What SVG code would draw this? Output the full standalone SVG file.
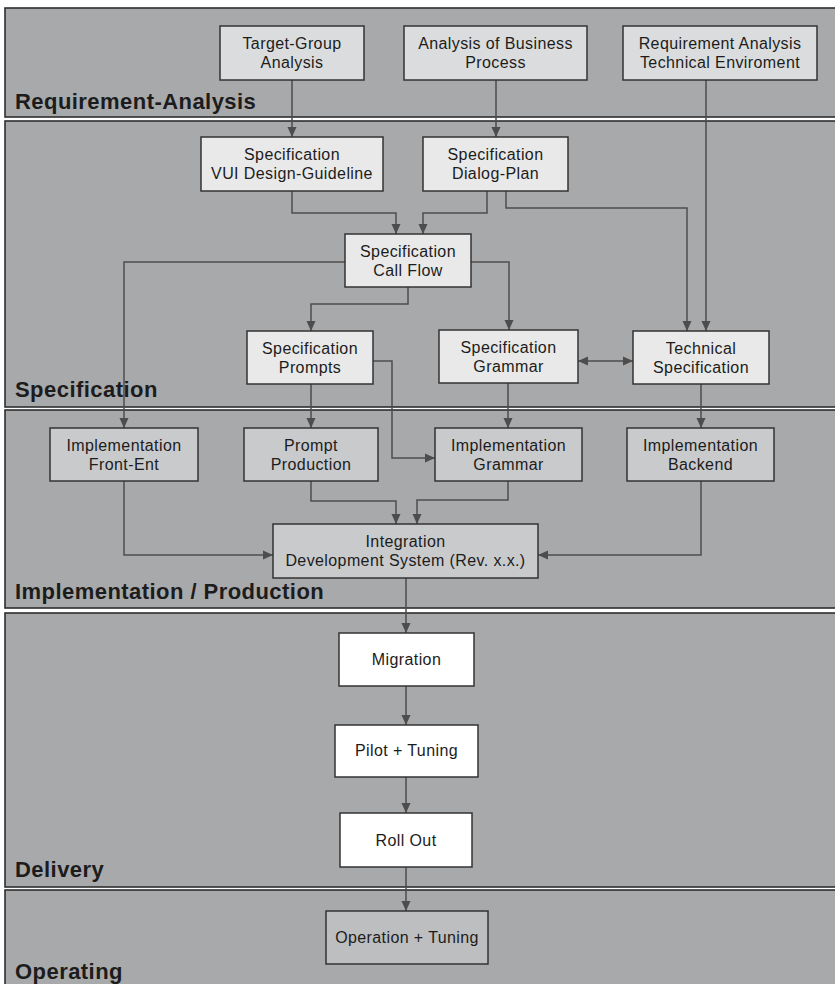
<svg xmlns="http://www.w3.org/2000/svg" width="835" height="984" viewBox="0 0 835 984">
  <style>
    .panel { fill: #a8a9ab; stroke: #2e2e2e; stroke-width: 1.6; }
    .phase { font-family: "Liberation Sans", Arial, sans-serif; font-weight: bold; font-size: 22px; letter-spacing: 0.45px; fill: #1c1c1c; }
    .box { stroke: #333333; stroke-width: 1.5; }
    .req { fill: #dbdcdd; }
    .spec { fill: #e8e9e8; }
    .impl { fill: #c9cacc; }
    .deliv { fill: #ffffff; }
    .oper { fill: #bdbec0; }
    .lbl { font-family: "Liberation Sans", Arial, sans-serif; font-size: 16px; letter-spacing: 0.4px; fill: #1c1c1c; text-anchor: middle; }
    .conn { fill: none; stroke: #4d4d4d; stroke-width: 1.5; }
  </style>
  <defs>
    <marker id="arrow" markerUnits="userSpaceOnUse" markerWidth="10" markerHeight="10" refX="10" refY="5" orient="auto-start-reverse">
      <path d="M0,0.5 L10,5 L0,9.5 Z" fill="#4d4d4d"/>
    </marker>
  </defs>

  <rect width="835" height="984" fill="#ffffff"/>

  <!-- phase bands -->
  <g id="phases">
    <rect class="panel" x="5" y="8" width="831" height="109"/>
    <rect class="panel" x="5" y="121" width="831" height="286"/>
    <rect class="panel" x="5" y="410" width="831" height="198"/>
    <rect class="panel" x="5" y="613" width="831" height="274"/>
    <rect class="panel" x="5" y="890" width="831" height="100"/>
    <text class="phase" x="15" y="109">Requirement-Analysis</text>
    <text class="phase" x="15" y="397">Specification</text>
    <text class="phase" x="15" y="599">Implementation / Production</text>
    <text class="phase" x="15" y="877">Delivery</text>
    <text class="phase" x="15" y="979">Operating</text>
  </g>

  <!-- connectors -->
  <g id="connectors">
    <path class="conn" d="M292,80 V137" marker-end="url(#arrow)"/>
    <path class="conn" d="M496,80 V137" marker-end="url(#arrow)"/>
    <path class="conn" d="M706,80 V331" marker-end="url(#arrow)"/>
    <path class="conn" d="M292,191 V213 H396 V234" marker-end="url(#arrow)"/>
    <path class="conn" d="M487,191 V213 H423 V234" marker-end="url(#arrow)"/>
    <path class="conn" d="M506,191 V208 H687 V331" marker-end="url(#arrow)"/>
    <path class="conn" d="M345,262 H124 V428" marker-end="url(#arrow)"/>
    <path class="conn" d="M471,262 H509 V330" marker-end="url(#arrow)"/>
    <path class="conn" d="M408,287 V304 H311 V331" marker-end="url(#arrow)"/>
    <path class="conn" d="M578,361 H633" marker-start="url(#arrow)" marker-end="url(#arrow)"/>
    <path class="conn" d="M373,361 H392 V458 H435" marker-end="url(#arrow)"/>
    <path class="conn" d="M311,384 V428" marker-end="url(#arrow)"/>
    <path class="conn" d="M508,383 V428" marker-end="url(#arrow)"/>
    <path class="conn" d="M701,384 V428" marker-end="url(#arrow)"/>
    <path class="conn" d="M124,481 V555 H273" marker-end="url(#arrow)"/>
    <path class="conn" d="M311,481 V501 H396 V524" marker-end="url(#arrow)"/>
    <path class="conn" d="M508,481 V500 H417 V524" marker-end="url(#arrow)"/>
    <path class="conn" d="M701,481 V555 H538" marker-end="url(#arrow)"/>
    <path class="conn" d="M406,578 V633" marker-end="url(#arrow)"/>
    <path class="conn" d="M406,686 V725" marker-end="url(#arrow)"/>
    <path class="conn" d="M406,777 V813" marker-end="url(#arrow)"/>
    <path class="conn" d="M406,867 V911" marker-end="url(#arrow)"/>
  </g>

  <!-- requirement analysis -->
  <g id="target-group">
    <rect class="box req" x="220" y="26" width="144" height="54"/>
    <text class="lbl" x="292" y="48.5">Target-Group</text>
    <text class="lbl" x="292" y="67.5">Analysis</text>
  </g>
  <g id="business-process">
    <rect class="box req" x="404" y="26" width="183" height="54"/>
    <text class="lbl" x="495.5" y="48.5">Analysis of Business</text>
    <text class="lbl" x="495.5" y="67.5">Process</text>
  </g>
  <g id="tech-environment">
    <rect class="box req" x="623" y="26" width="194" height="54"/>
    <text class="lbl" x="720" y="48.5">Requirement Analysis</text>
    <text class="lbl" x="720" y="67.5">Technical Enviroment</text>
  </g>

  <!-- specification -->
  <g id="spec-vui">
    <rect class="box spec" x="201" y="137" width="182" height="54"/>
    <text class="lbl" x="292" y="159.5">Specification</text>
    <text class="lbl" x="292" y="178.5">VUI Design-Guideline</text>
  </g>
  <g id="spec-dialog">
    <rect class="box spec" x="423" y="137" width="145" height="54"/>
    <text class="lbl" x="495.5" y="159.5">Specification</text>
    <text class="lbl" x="495.5" y="178.5">Dialog-Plan</text>
  </g>
  <g id="spec-callflow">
    <rect class="box spec" x="345" y="234" width="126" height="53"/>
    <text class="lbl" x="408" y="256.5">Specification</text>
    <text class="lbl" x="408" y="275.5">Call Flow</text>
  </g>
  <g id="spec-prompts">
    <rect class="box spec" x="247" y="331" width="126" height="53"/>
    <text class="lbl" x="310" y="353.5">Specification</text>
    <text class="lbl" x="310" y="372.5">Prompts</text>
  </g>
  <g id="spec-grammar">
    <rect class="box spec" x="439" y="330" width="139" height="53"/>
    <text class="lbl" x="508.5" y="352.5">Specification</text>
    <text class="lbl" x="508.5" y="371.5">Grammar</text>
  </g>
  <g id="tech-spec">
    <rect class="box spec" x="633" y="331" width="136" height="53"/>
    <text class="lbl" x="701" y="353.5">Technical</text>
    <text class="lbl" x="701" y="372.5">Specification</text>
  </g>

  <!-- implementation / production -->
  <g id="impl-frontend">
    <rect class="box impl" x="50" y="428" width="148" height="53"/>
    <text class="lbl" x="124" y="450.5">Implementation</text>
    <text class="lbl" x="124" y="469.5">Front-Ent</text>
  </g>
  <g id="prompt-production">
    <rect class="box impl" x="244" y="428" width="134" height="53"/>
    <text class="lbl" x="311" y="450.5">Prompt</text>
    <text class="lbl" x="311" y="469.5">Production</text>
  </g>
  <g id="impl-grammar">
    <rect class="box impl" x="435" y="428" width="147" height="53"/>
    <text class="lbl" x="508.5" y="450.5">Implementation</text>
    <text class="lbl" x="508.5" y="469.5">Grammar</text>
  </g>
  <g id="impl-backend">
    <rect class="box impl" x="627" y="428" width="147" height="53"/>
    <text class="lbl" x="700.5" y="450.5">Implementation</text>
    <text class="lbl" x="700.5" y="469.5">Backend</text>
  </g>
  <g id="integration">
    <rect class="box impl" x="273" y="524" width="265" height="54"/>
    <text class="lbl" x="405.5" y="546.5">Integration</text>
    <text class="lbl" x="405.5" y="565.5">Development System (Rev. x.x.)</text>
  </g>

  <!-- delivery -->
  <g id="migration">
    <rect class="box deliv" x="339" y="633" width="135" height="53"/>
    <text class="lbl" x="406.5" y="665">Migration</text>
  </g>
  <g id="pilot">
    <rect class="box deliv" x="335" y="725" width="143" height="52"/>
    <text class="lbl" x="406.5" y="756">Pilot + Tuning</text>
  </g>
  <g id="rollout">
    <rect class="box deliv" x="340" y="813" width="132" height="54"/>
    <text class="lbl" x="406" y="846">Roll Out</text>
  </g>

  <!-- operating -->
  <g id="operation">
    <rect class="box oper" x="326" y="911" width="162" height="53"/>
    <text class="lbl" x="407" y="943">Operation + Tuning</text>
  </g>
</svg>
